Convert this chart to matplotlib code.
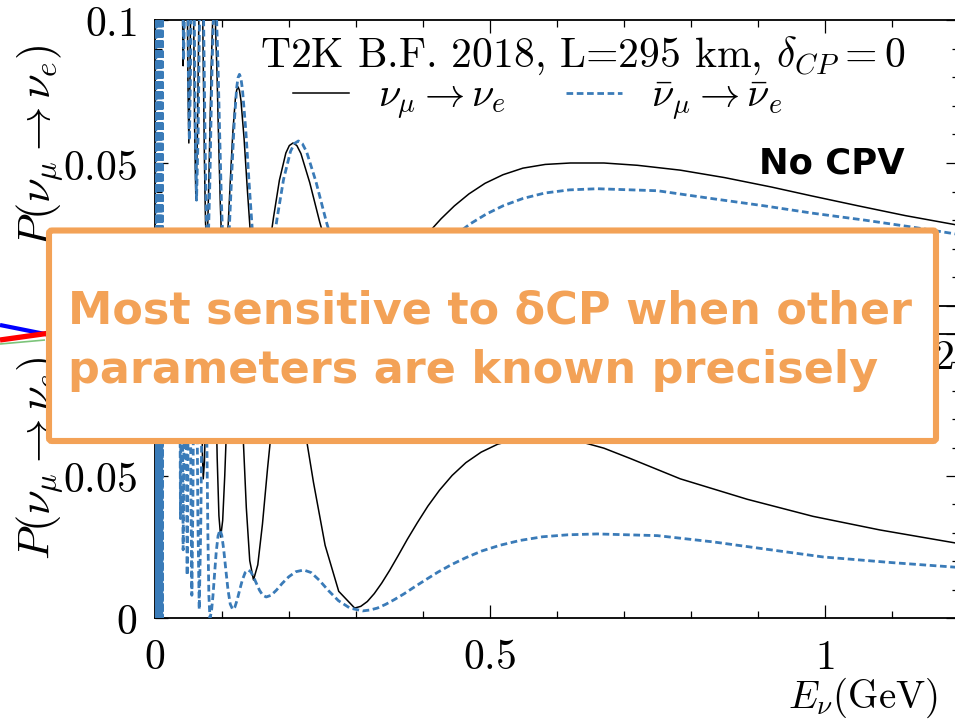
import matplotlib
matplotlib.use("Agg")
import matplotlib.pyplot as plt
from matplotlib.ticker import MultipleLocator, FuncFormatter
from matplotlib.patches import FancyBboxPatch
from matplotlib.lines import Line2D

plt.rcParams['mathtext.fontset'] = 'cm'
plt.rcParams['font.family'] = ['DejaVu Serif']

# ---------------- data ----------------
band_E = [0.0010, 0.0015, 0.0020, 0.0025, 0.0030, 0.0035, 0.0040, 0.0045, 0.0050, 0.0055, 0.0060,
          0.0065, 0.0070, 0.0075, 0.0080, 0.0085, 0.0090, 0.0095, 0.0100, 0.0105, 0.0110, 0.0115]
band_P = [0.0, 0.16, 0.0, 0.16, 0.0, 0.16, 0.0, 0.16, 0.0, 0.16, 0.0,
          0.16, 0.0, 0.16, 0.0, 0.16, 0.0, 0.16, 0.0, 0.16, 0.0, 0.16]

top_nu_E = [0.012, 0.022, 0.032, 0.0395, 0.0403, 0.0411, 0.0420, 0.0434, 0.0449, 0.0465, 0.0478, 0.0491,
            0.0505, 0.0521, 0.0537, 0.0555, 0.0572, 0.0591, 0.0610, 0.0633, 0.0658, 0.0685, 0.0698,
            0.0711, 0.0725, 0.0739, 0.0754, 0.0770, 0.0786, 0.0803, 0.0821, 0.0840, 0.0860, 0.0880,
            0.0902, 0.0925, 0.0949, 0.0975, 0.1002, 0.1030, 0.1060, 0.1092, 0.1125, 0.1161, 0.1199,
            0.1219, 0.1240, 0.1261, 0.1283, 0.1329, 0.1378, 0.1431, 0.1488, 0.1550, 0.1617, 0.1690,
            0.1769, 0.1857, 0.1953, 0.2005, 0.2060, 0.2117, 0.2178, 0.2310, 0.2459, 0.2629, 0.2823,
            0.3050, 0.3150, 0.3256, 0.3371, 0.3494, 0.3625, 0.3768, 0.3922, 0.4088, 0.4270, 0.4468,
            0.4686, 0.4926, 0.5194, 0.5491, 0.5824, 0.6200, 0.6700, 0.7200, 0.7840, 0.8500, 0.9200,
            0.9800, 1.0500, 1.1200, 1.2000]
top_nu_P = [0.30, 0.35, 0.25, 0.160, 0.141, 0.103, 0.084, 0.1005, 0.1335, 0.150, 0.127, 0.080,
            0.057, 0.078, 0.119, 0.140, 0.114, 0.063, 0.037, 0.060, 0.107, 0.130, 0.1228,
            0.103, 0.076, 0.049, 0.0292, 0.022, 0.0276, 0.0428, 0.0635, 0.0843, 0.0994, 0.105,
            0.0988, 0.0818, 0.0585, 0.0353, 0.0182, 0.012, 0.0163, 0.0282, 0.0443, 0.0605, 0.0723,
            0.0755, 0.0766, 0.0754, 0.0718, 0.0587, 0.0408, 0.0229, 0.0098, 0.0050, 0.0085, 0.0180,
            0.0310, 0.0440, 0.0535, 0.0561, 0.0570, 0.0561, 0.0533, 0.0431, 0.0293, 0.0154, 0.0052,
            0.0015, 0.0020, 0.0034, 0.0056, 0.0086, 0.0123, 0.0165, 0.0210, 0.0258, 0.0305, 0.0350,
            0.0392, 0.0429, 0.0459, 0.0482, 0.0495, 0.0500, 0.0500, 0.0492, 0.0475, 0.0449, 0.0416,
            0.0385, 0.0350, 0.0316, 0.0282]

top_nubar_E = [0.012, 0.022, 0.032, 0.0400, 0.0409, 0.0418, 0.0427, 0.0440, 0.0455, 0.0470, 0.0484,
               0.0498, 0.0513, 0.0529, 0.0547, 0.0565, 0.0582, 0.0601, 0.0620, 0.0644, 0.0669, 0.0697,
               0.0710, 0.0724, 0.0738, 0.0753, 0.0769, 0.0785, 0.0801, 0.0819, 0.0836, 0.0855, 0.0875,
               0.0895, 0.0918, 0.0941, 0.0966, 0.0993, 0.1021, 0.1050, 0.1080, 0.1112, 0.1145, 0.1181,
               0.1219, 0.1239, 0.1260, 0.1282, 0.1305, 0.1354, 0.1406, 0.1462, 0.1523, 0.1590, 0.1661,
               0.1739, 0.1824, 0.1919, 0.2023, 0.2080, 0.2140, 0.2200, 0.2263, 0.2402, 0.2558, 0.2737,
               0.2941, 0.3180, 0.3286, 0.3400, 0.3522, 0.3653, 0.3794, 0.3947, 0.4112, 0.4292, 0.4488,
               0.4703, 0.4941, 0.5201, 0.5492, 0.5817, 0.6184, 0.6600, 0.7500, 0.8330, 0.9100, 0.9800,
               1.0600, 1.1300, 1.2000]
top_nubar_P = [0.30, 0.35, 0.25, 0.160, 0.1415, 0.1045, 0.086, 0.102, 0.134, 0.150, 0.127,
               0.081, 0.058, 0.0785, 0.1195, 0.140, 0.114, 0.063, 0.037, 0.060, 0.107, 0.130,
               0.1228, 0.103, 0.076, 0.049, 0.0292, 0.022, 0.0278, 0.0435, 0.0650, 0.0865, 0.1022,
               0.108, 0.1015, 0.0838, 0.0595, 0.0353, 0.0175, 0.011, 0.0157, 0.0285, 0.0460, 0.0635,
               0.0763, 0.0798, 0.0810, 0.0797, 0.0758, 0.0618, 0.0425, 0.0233, 0.0092, 0.0040, 0.0076,
               0.0174, 0.0309, 0.0443, 0.0541, 0.0568, 0.0577, 0.0567, 0.0539, 0.0435, 0.0294, 0.0152,
               0.0048, 0.0010, 0.0014, 0.0025, 0.0044, 0.0069, 0.0099, 0.0134, 0.0171, 0.0210, 0.0249,
               0.0287, 0.0321, 0.0351, 0.0376, 0.0395, 0.0406, 0.0410, 0.0403, 0.0375, 0.0350, 0.0325,
               0.0300, 0.0276, 0.0250]

bot_nu_E = [0.012, 0.022, 0.032, 0.045, 0.0600, 0.0655, 0.0665, 0.0675, 0.0686, 0.0697, 0.0708, 0.0720,
            0.0738, 0.0756, 0.0775, 0.0796, 0.0817, 0.0840, 0.0861, 0.0882, 0.0905, 0.0928, 0.0954,
            0.0980, 0.1010, 0.1041, 0.1075, 0.1111, 0.1149, 0.1190, 0.1229, 0.1271, 0.1315, 0.1363,
            0.1414, 0.1470, 0.1534, 0.1604, 0.1680, 0.1764, 0.1857, 0.1960, 0.2079, 0.2212, 0.2365,
            0.2539, 0.2742, 0.2980, 0.3071, 0.3169, 0.3273, 0.3384, 0.3503, 0.3630, 0.3766, 0.3914,
            0.4073, 0.4246, 0.4435, 0.4640, 0.4868, 0.5115, 0.5394, 0.5700, 0.6300, 0.6700, 0.7090,
            0.7840, 0.8840, 0.9820, 1.0820, 1.2000]
bot_nu_P = [0.30, 0.35, 0.28, 0.20, 0.078, 0.170, 0.1619, 0.1398, 0.1095, 0.0792, 0.0571, 0.049,
            0.0551, 0.0718, 0.0945, 0.1173, 0.1339, 0.140, 0.1325, 0.1121, 0.0843, 0.0564, 0.0360,
            0.0285, 0.0343, 0.0501, 0.0718, 0.0934, 0.1092, 0.1150, 0.1082, 0.0896, 0.0642, 0.0388,
            0.0202, 0.0134, 0.0187, 0.0331, 0.0527, 0.0724, 0.0867, 0.0920, 0.0861, 0.0699, 0.0478,
            0.0256, 0.0094, 0.0035, 0.0041, 0.0058, 0.0086, 0.0123, 0.0168, 0.0220, 0.0277, 0.0335,
            0.0394, 0.0450, 0.0502, 0.0547, 0.0584, 0.0612, 0.0629, 0.0635, 0.0624, 0.0598, 0.0562,
            0.0490, 0.0418, 0.0358, 0.0310, 0.0262]

bot_nubar_E = [0.012, 0.022, 0.030, 0.0360, 0.0366, 0.0373, 0.0380, 0.0386, 0.0393, 0.0400, 0.0407,
               0.0413, 0.0420, 0.0430, 0.0440, 0.0450, 0.0460, 0.0470, 0.0480, 0.0490, 0.0500, 0.0510,
               0.0523, 0.0536, 0.0550, 0.0566, 0.0582, 0.0600, 0.0619, 0.0639, 0.0660, 0.0683, 0.0708,
               0.0735, 0.0748, 0.0761, 0.0775, 0.0789, 0.0804, 0.0820, 0.0842, 0.0865, 0.0889, 0.0914,
               0.0941, 0.0970, 0.0997, 0.1026, 0.1057, 0.1089, 0.1123, 0.1160, 0.1193, 0.1228, 0.1265,
               0.1304, 0.1346, 0.1390, 0.1429, 0.1470, 0.1513, 0.1559, 0.1608, 0.1660, 0.1733, 0.1812,
               0.1899, 0.1996, 0.2102, 0.2220, 0.2330, 0.2452, 0.2587, 0.2738, 0.2908, 0.3100, 0.3206,
               0.3320, 0.3442, 0.3574, 0.3716, 0.3870, 0.4036, 0.4219, 0.4417, 0.4636, 0.4878, 0.5147,
               0.5447, 0.5784, 0.6165, 0.6600, 0.7500, 0.8330, 0.9100, 0.9970, 1.1000, 1.2000]
bot_nubar_P = [0.30, 0.35, 0.28, 0.200, 0.159, 0.076, 0.035, 0.069, 0.136, 0.170, 0.1335,
               0.0605, 0.024, 0.058, 0.126, 0.160, 0.1238, 0.0513, 0.015, 0.0488, 0.116, 0.150,
               0.1145, 0.0435, 0.008, 0.041, 0.107, 0.140, 0.1058, 0.0373, 0.003, 0.0323, 0.0908,
               0.120, 0.112, 0.090, 0.060, 0.030, 0.008, 0.000, 0.0021, 0.0078, 0.0155, 0.0233,
               0.0289, 0.0310, 0.0291, 0.0240, 0.0170, 0.0100, 0.0049, 0.0030, 0.0039, 0.0065, 0.0100,
               0.0134, 0.0160, 0.0169, 0.0163, 0.0145, 0.0122, 0.0098, 0.0080, 0.0074, 0.0080, 0.0098,
               0.0122, 0.0145, 0.0163, 0.0169, 0.0160, 0.0133, 0.0097, 0.0061, 0.0035, 0.0025, 0.0028,
               0.0035, 0.0048, 0.0065, 0.0085, 0.0109, 0.0134, 0.0161, 0.0187, 0.0212, 0.0236, 0.0256,
               0.0273, 0.0286, 0.0293, 0.0296, 0.0290, 0.0268, 0.0243, 0.0215, 0.0195, 0.0178]

x_tick_labels = {0.0: '0', 0.5: '0.5', 1.0: '1'}
y_tick_labels_top = {0.05: '0.05', 0.1: '0.1'}   # the '0' of this panel lies under the box
y_tick_labels_bot = {0.0: '0', 0.05: '0.05'}     # the '0.1' of this panel lies under the box

title_text = r"T2K B.F. 2018, L=295 km, $\delta_{CP}=0$"
leg_nu = r"$\nu_\mu \rightarrow \nu_e$"
leg_nubar = r"$\bar{\nu}_\mu \rightarrow \bar{\nu}_e$"
ylabel_text = r"$P(\nu_\mu \rightarrow \nu_e)$"
xlabel_text = r"$E_\nu(\mathrm{GeV})$"
cpv_text = "No CPV"
box_lines = ["Most sensitive to \u03b4CP when other", "parameters are known precisely"]

# decorative fragments at the left edge (pixel space of the picture)
deco_blue_x, deco_blue_y = [0, 50], [325, 335]
deco_red_x, deco_red_y = [0, 50], [340, 333]
deco_green_x, deco_green_y = [0, 45], [344, 340]

# ---------------- styling ----------------
BLUE = '#3a7bb8'
ORANGE = '#f3a257'
DASH = (0, (2.4, 1.3))
W, H, DPI = 9.55, 7.2, 100
fig = plt.figure(figsize=(W, H), dpi=DPI)

ax_top = fig.add_axes([155/955, 1-306/720, 804/955, 286/720])
ax_bot = fig.add_axes([155/955, 1-618/720, 804/955, 284/720])


def make_fmt(table):
    def f(v, p):
        key = round(v, 3)
        return "$%s$" % table[key] if key in table else ""
    return FuncFormatter(f)


def style(ax, show_x, ytable):
    ax.set_xlim(0, 1.2)
    ax.set_ylim(0, 0.1)
    ax.xaxis.set_major_locator(MultipleLocator(0.5))
    ax.xaxis.set_minor_locator(MultipleLocator(0.1))
    ax.yaxis.set_major_locator(MultipleLocator(0.05))
    ax.yaxis.set_minor_locator(MultipleLocator(0.01))
    ax.xaxis.set_major_formatter(make_fmt(x_tick_labels))
    ax.yaxis.set_major_formatter(make_fmt(ytable))
    ax.tick_params(which='both', direction='in', top=True, right=True, width=0.9)
    ax.tick_params(which='major', length=9.5, labelsize=30, pad=13)
    ax.tick_params(which='minor', length=5)
    ax.tick_params(axis='x', labelbottom=show_x)
    for s in ax.spines.values():
        s.set_linewidth(1.3)


for ax, (nE, nP, bE, bP) in [
        (ax_top, (top_nu_E, top_nu_P, top_nubar_E, top_nubar_P)),
        (ax_bot, (bot_nu_E, bot_nu_P, bot_nubar_E, bot_nubar_P))]:
    ax.plot(nE, nP, color='black', lw=1.1, zorder=2)
    ax.plot(band_E + bE, band_P + bP, color=BLUE, lw=2.0, ls=DASH, zorder=3)

style(ax_top, False, y_tick_labels_top)
style(ax_bot, True, y_tick_labels_bot)

# legend and annotations in top panel
h1 = Line2D([], [], color='black', lw=1.1)
h2 = Line2D([], [], color=BLUE, lw=2.0, ls=DASH)
ax_top.legend([h1, h2], [leg_nu, leg_nubar], ncol=2, loc='center left',
              bbox_to_anchor=((293-155)/804, (306-100)/286), frameon=False,
              fontsize=29, handlelength=1.4, handletextpad=0.7, columnspacing=1.5,
              borderpad=0, borderaxespad=0)
ax_top.text((905-155)/804, (306-67)/286, title_text, transform=ax_top.transAxes,
            ha='right', va='baseline', fontsize=30, family='cmr10')
ax_top.text((905-155)/804, (306-173)/286, cpv_text, transform=ax_top.transAxes,
            ha='right', va='baseline', fontsize=25.5, fontweight='bold', family='DejaVu Sans')

for ax, yc in [(ax_top, 0.56), (ax_bot, 0.563)]:
    ax.set_ylabel(ylabel_text, fontsize=32)
    ax.yaxis.set_label_coords((66-155)/804, yc)

ax_bot.set_xlabel(xlabel_text, fontsize=28, ha='right', va='top')
ax_bot.xaxis.set_label_coords((938-155)/804, -(676-618)/284)

# overlay (picture pixel space)
ov = fig.add_axes([0, 0, 1, 1], zorder=10)
ov.set_xlim(0, 955)
ov.set_ylim(720, 0)
ov.axis('off')
ov.patch.set_alpha(0)
ov.plot(deco_blue_x, deco_blue_y, color='#0000ff', lw=3.0, solid_capstyle='butt')
ov.plot(deco_green_x, deco_green_y, color='#7cc47a', lw=1.2, solid_capstyle='butt')
ov.plot(deco_red_x, deco_red_y, color='#ff0000', lw=3.8, solid_capstyle='butt')
ov.text(943, 357, "$2$", fontsize=30, ha='center', va='center')

box = FancyBboxPatch((49, 230.5), 887, 210.5, boxstyle='round,pad=0,rounding_size=3',
                     lw=4.4, ec=ORANGE, fc='white', zorder=5)
ov.add_patch(box)
for text, base in zip(box_lines, [323, 383]):
    ov.text(68, base, text, fontsize=32, fontweight='bold', family='DejaVu Sans',
            color=ORANGE, ha='left', va='baseline', zorder=6)

fig.savefig('out.png', dpi=DPI)
